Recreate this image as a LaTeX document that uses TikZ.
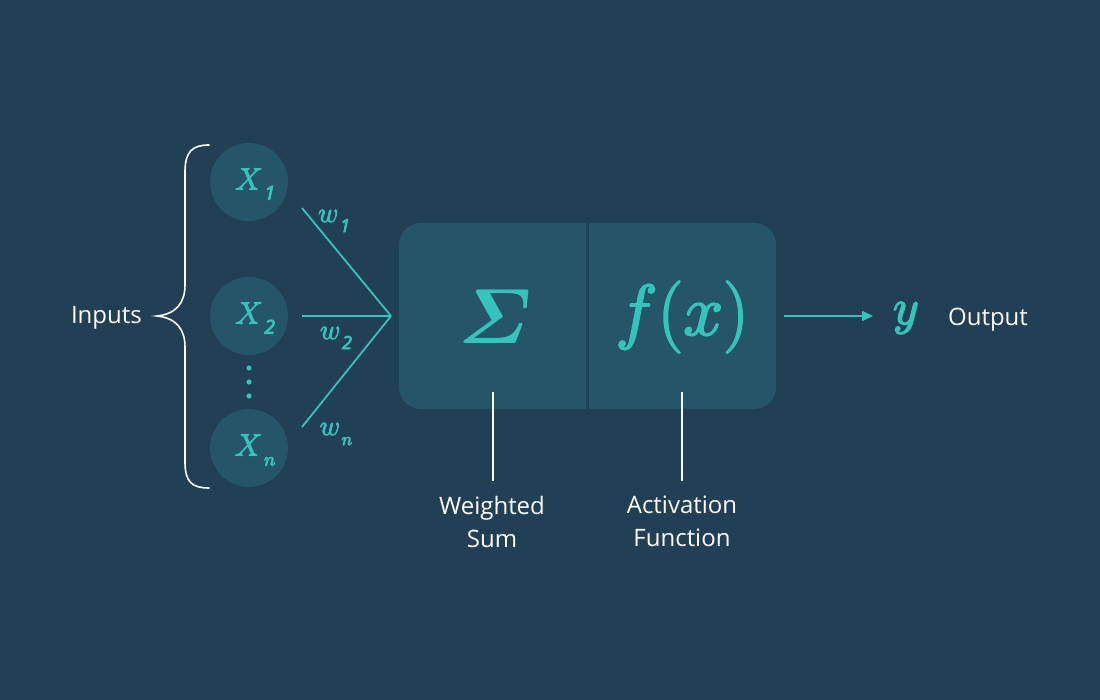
\RequirePackage{fix-cm}
\documentclass[tikz,border=0pt]{standalone}
\usepackage{amsmath}
\usepackage{bm}
\usepackage{fontspec}
\setmainfont{Open Sans}
\usetikzlibrary{arrows.meta}
\definecolor{bgc}{HTML}{213F55}
\definecolor{boxc}{HTML}{255569}
\definecolor{teal}{HTML}{35C4BB}
\newcommand{\mysub}[3]{\mskip1mu\lower#1\hbox{\fontsize{#2}{#2}\selectfont$#3$}}
\newcommand{\heavy}[2]{\special{pdf:literal direct 2 Tr #1 w}#2\special{pdf:literal direct 0 Tr}}
\tikzset{
  inp/.style={circle,fill=boxc,minimum size=78pt,inner sep=0pt},
  xlab/.style={text=teal,font=\fontsize{31}{31}\selectfont,inner sep=0pt},
  wlab/.style={text=teal,font=\fontsize{28}{28}\selectfont,inner sep=0pt},
  wline/.style={draw=teal,line width=1.8pt},
  wlinew/.style={draw=white,line width=1.8pt},
  lab/.style={text=white,font=\fontsize{24}{33}\selectfont,align=center,inner sep=0pt},
  bigm/.style={text=teal,inner sep=0pt}
}
\begin{document}
\begin{tikzpicture}[x=1pt,y=-1pt]
\fill[bgc] (0,0) rectangle (1100,700);
\useasboundingbox (0,0) rectangle (1100,700);
% inputs
\node[inp] (x1) at (249,182) {};
\node[inp] (x2) at (249,316) {};
\node[inp] (xn) at (249,448) {};
\node[xlab] (tx1) at (255,184) {\heavy{0.9}{$X\mysub{10pt}{19}{\mathit{1}}$}};
\node[xlab] (tx2) at (255,318) {\heavy{0.9}{$X\mysub{10pt}{19}{\mathit{2}}$}};
\node[xlab] (txn) at (255,450) {\heavy{0.9}{$X\mysub{10pt}{19}{n}$}};
\foreach \yy [count=\i] in {368,382,396} \fill[teal] (249,\yy) circle (2.6pt) coordinate (d\i);
% brace
\draw[white,line width=1.6pt,line cap=round] (209,145) .. controls (192,145) and (185,152) .. (185,172)
  -- (185,285) .. controls (185,303) and (176,314) .. (157,316)
  .. controls (176,318) and (185,329) .. (185,347) -- (185,462)
  .. controls (185,482) and (192,488) .. (209,488);
\node[lab,anchor=east] (inputs) at (142,318) {Inputs};
% weights
\coordinate (j) at (391,316);
\coordinate (s1) at (302,208);
\coordinate (s2) at (302,316);
\coordinate (sn) at (302,427);
\draw[wline] (s1) -- (j);
\draw[wline] (s2) -- (j);
\draw[wline] (sn) -- (j);
\node[wlab] (w1) at (334,221) {\heavy{0.8}{$w\mysub{10pt}{18}{\mathit{1}}$}};
\node[wlab] (w2) at (336,338) {\heavy{0.8}{$w\mysub{10pt}{18}{\mathit{2}}$}};
\node[wlab] (wn) at (336,434) {\heavy{0.8}{$w\mysub{10pt}{18}{n}$}};
% box
\node[fill=boxc,rounded corners=22pt,minimum width=377pt,minimum height=186pt,inner sep=0pt] (box) at (587.5,316) {};
\draw[bgc,line width=3pt] (587,223) -- (587,409);
\node[bigm,font=\fontsize{78}{78}\selectfont] (sig) at (495,317) {$\boldsymbol{\varSigma}$};
\node[bigm,font=\fontsize{72}{72}\selectfont] (fx) at (682,317) {\heavy{1.8}{$f(x)$}};
% output
\coordinate (a0) at (784,316);
\node[bigm,font=\fontsize{50}{50}\selectfont] (y) at (906,318) {\heavy{1.6}{$y$}};
\draw[wline,-{Triangle[length=11pt,width=10pt]}] (a0) -- (873,316);
\node[lab] (out) at (988,320) {Output};
% labels
\coordinate (l1) at (493,392);
\coordinate (l2) at (682,392);
\node[lab,anchor=north] (ws) at (492,496) {Weighted\\Sum};
\node[lab,anchor=north] (af) at (682,496) {Activation\\Function};
\draw[wlinew] (l1) -- (493,481);
\draw[wlinew] (l2) -- (682,481);
\end{tikzpicture}
\end{document}
